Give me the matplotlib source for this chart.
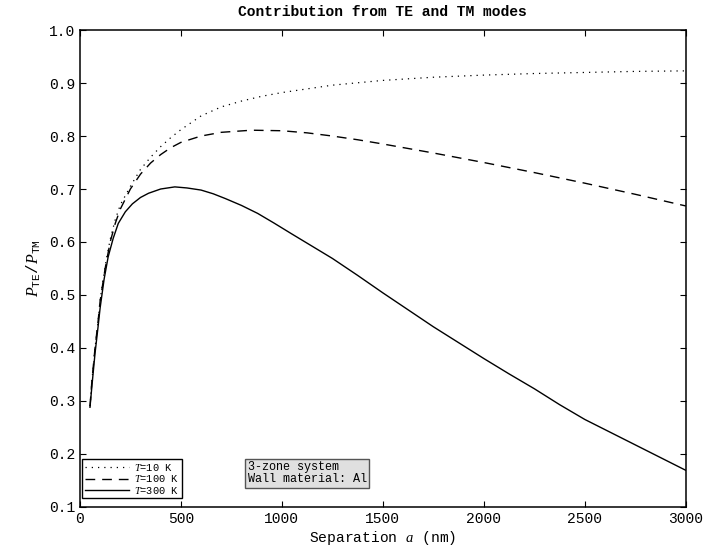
import matplotlib
matplotlib.use('Agg')
import matplotlib.pyplot as plt

plt.rcParams['font.family'] = ['Liberation Mono', 'DejaVu Sans Mono']
plt.rcParams['mathtext.fontset'] = 'custom'
plt.rcParams['mathtext.it'] = 'Liberation Serif:italic'
plt.rcParams['mathtext.rm'] = 'Liberation Mono'

# T = 10 K
sep_10 = [50, 60, 75, 90, 100, 125, 150, 175, 200, 250, 300, 350, 400, 450, 500, 600, 700, 800, 900,
          1000, 1250, 1500, 1750, 2000, 2250, 2500, 2750, 3000]
ratio_10 = [0.29, 0.34, 0.40, 0.45, 0.49, 0.555, 0.605, 0.642, 0.67, 0.705, 0.737, 0.76, 0.78, 0.797,
            0.812, 0.838, 0.855, 0.866, 0.875, 0.882, 0.896, 0.905, 0.911, 0.915, 0.918, 0.920, 0.922,
            0.923]

# T = 100 K
sep_100 = [50, 60, 75, 90, 100, 125, 150, 175, 200, 250, 300, 350, 400, 450, 500, 600, 700, 850, 1000,
           1125, 1250, 1375, 1500, 1750, 2000, 2250, 2500, 2750, 3000]
ratio_100 = [0.29, 0.34, 0.40, 0.45, 0.488, 0.55, 0.60, 0.635, 0.662, 0.70, 0.728, 0.749, 0.765, 0.778,
             0.788, 0.800, 0.807, 0.811, 0.810, 0.806, 0.800, 0.793, 0.785, 0.768, 0.750, 0.731, 0.711,
             0.690, 0.668]

# T = 300 K
sep_300 = [50, 60, 75, 90, 100, 120, 140, 165, 190, 225, 260, 300, 340, 400, 470, 530, 600, 660, 720,
           800, 880, 960, 1050, 1150, 1250, 1375, 1500, 1625, 1750, 1875, 2000, 2125, 2250, 2375, 2500,
           2625, 2750, 2875, 3000]
ratio_300 = [0.288, 0.33, 0.39, 0.44, 0.475, 0.53, 0.572, 0.607, 0.635, 0.657, 0.672, 0.684, 0.692,
             0.700, 0.704, 0.702, 0.698, 0.691, 0.682, 0.669, 0.654, 0.636, 0.615, 0.592, 0.569, 0.537,
             0.504, 0.472, 0.440, 0.410, 0.380, 0.351, 0.323, 0.293, 0.265, 0.241, 0.217, 0.193, 0.169]

fig = plt.figure(figsize=(7.07, 5.57), dpi=100)
ax = fig.add_axes([0.113, 0.090, 0.857, 0.856])

ax.plot(sep_10, ratio_10, color='black', lw=0.9, linestyle=(0, (1, 4)), label='$T$=10 K')
ax.plot(sep_100, ratio_100, color='black', lw=1.0, linestyle=(0, (7, 5)), label='$T$=100 K')
ax.plot(sep_300, ratio_300, color='black', lw=1.0, label='$T$=300 K')

ax.set_xlim(0, 3000)
ax.set_ylim(0.1, 1.0)
ax.set_xticks([0, 500, 1000, 1500, 2000, 2500, 3000])
ax.set_yticks([0.1, 0.2, 0.3, 0.4, 0.5, 0.6, 0.7, 0.8, 0.9, 1.0])
ax.tick_params(direction='in', top=True, right=True, length=4, labelsize=10.5)
for s in ax.spines.values():
    s.set_linewidth(1.1)

ax.set_title('Contribution from TE and TM modes', fontsize=10.5, fontweight='bold', pad=10)
ax.set_xlabel('Separation $a$ (nm)', fontsize=10.5, labelpad=2)
ax.set_ylabel(r'$P_{\rm TE}/P_{\rm TM}$', fontsize=11.5, labelpad=4)

leg = ax.legend(loc='lower left', bbox_to_anchor=(0.004, 0.018), fontsize=7.5, frameon=True,
                fancybox=False, edgecolor='black', framealpha=1, handlelength=4.2,
                labelspacing=0.05, borderpad=0.25, handletextpad=0.5, borderaxespad=0)
leg.get_frame().set_linewidth(1.0)

ax.text(0.277, 0.045, '3-zone system\nWall material: Al', transform=ax.transAxes, fontsize=8.5,
        va='bottom', ha='left', linespacing=1.0,
        bbox=dict(boxstyle='square,pad=0.2', fc='#e0e0e0', ec='#555555', lw=1.0))

plt.savefig('out.png', dpi=100)
